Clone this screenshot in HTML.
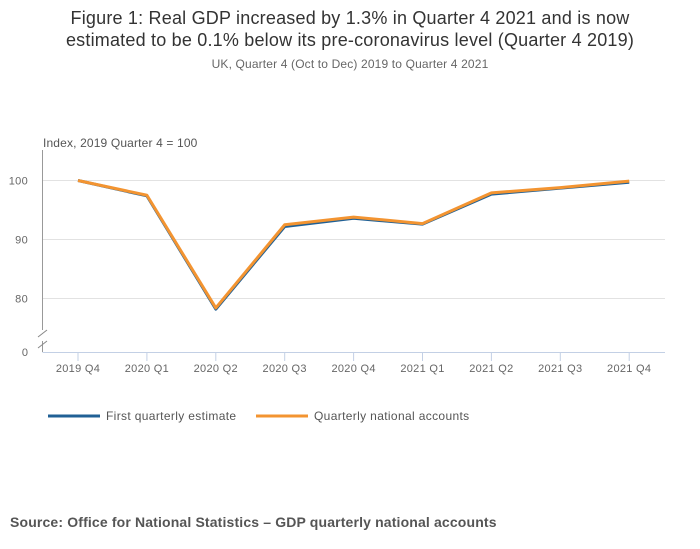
<!DOCTYPE html>
<html><head><meta charset="utf-8"><style>
body{margin:0;background:#fff;font-family:"Liberation Sans",sans-serif;}
#wrap{position:relative;width:700px;height:549px;overflow:hidden;}
</style></head><body>
<div id="wrap">
<svg id="chart" width="700" height="549">
<text x="350" y="24" text-anchor="middle" font-size="18" fill="#333" letter-spacing="0.2">Figure 1: Real GDP increased by 1.3% in Quarter 4 2021 and is now</text>
<text x="350" y="46" text-anchor="middle" font-size="18" fill="#333" letter-spacing="0.2">estimated to be 0.1% below its pre-coronavirus level (Quarter 4 2019)</text>
<text x="350" y="68" text-anchor="middle" font-size="12" fill="#666" letter-spacing="0.15">UK, Quarter 4 (Oct to Dec) 2019 to Quarter 4 2021</text>
<text x="43" y="147" font-size="12" fill="#555" letter-spacing="0.15">Index, 2019 Quarter 4 = 100</text>
<g id="grid"></g><g id="axes"></g><g id="series"></g>
<line x1="48" y1="416" x2="100" y2="416" stroke="#206095" stroke-width="3"/>
<text x="106" y="420" font-size="12" fill="#555" letter-spacing="0.35">First quarterly estimate</text>
<line x1="256" y1="416" x2="308" y2="416" stroke="#f39431" stroke-width="3"/>
<text x="314" y="420" font-size="12" fill="#555" letter-spacing="0.35">Quarterly national accounts</text>
<text x="10" y="527" font-size="14" font-weight="bold" fill="#555" letter-spacing="0.15">Source: Office for National Statistics – GDP quarterly national accounts</text>
</svg>
</div>
<script>
const categories=["2019 Q4","2020 Q1","2020 Q2","2020 Q3","2020 Q4","2021 Q1","2021 Q2","2021 Q3","2021 Q4"];
const firstEstimate=[100,97.4,78.2,92.2,93.6,92.6,97.7,98.7,99.7];
const qnaValues=[100,97.5,78.4,92.5,93.8,92.7,97.9,98.8,99.9];
const yTicks=[100,90,80];
const NS="http://www.w3.org/2000/svg";
function xS(i){return 78+i*68.9;}
function yS(v){return 180.5+(100-v)*5.9;}
function mk(tag,attrs,parent){const e=document.createElementNS(NS,tag);for(const k in attrs)e.setAttribute(k,attrs[k]);parent.appendChild(e);return e;}
const grid=document.getElementById('grid'),axes=document.getElementById('axes'),series=document.getElementById('series');
yTicks.forEach(t=>{
 const l=mk('line',{x1:42.5,x2:665,y1:yS(t),y2:yS(t),stroke:'#e2e2e2','stroke-width':1},grid);
 
 
 const tx=mk('text',{x:28,y:yS(t)+4,'text-anchor':'end','font-size':11,fill:'#666','letter-spacing':0.3},axes);
 tx.textContent=t;
 
 
});
const z=mk('text',{x:28,y:356,'text-anchor':'end','font-size':11,fill:'#666'},axes);z.textContent='0';


const ya=mk('path',{d:'M42.5 150 V330 M42.5 341 V352',stroke:'#999',fill:'none'},axes);


const br=mk('path',{d:'M38 337 L47 330 M38 348 L47 341',stroke:'#888',fill:'none'},axes);


const xa=mk('line',{x1:42.5,x2:665,y1:352.5,y2:352.5,stroke:'#c3d0e5'},axes);


categories.forEach((c,i)=>{
 const tk=mk('line',{x1:xS(i),x2:xS(i),y1:352,y2:361,stroke:'#c3d0e5'},axes);
 
 
 const t=mk('text',{x:xS(i),y:372,'text-anchor':'middle','font-size':11,fill:'#666','letter-spacing':0.3},axes);
 t.textContent=c;
 
 
});
function line(vals,col,name){
 const p=mk('polyline',{points:vals.map((v,i)=>xS(i)+','+yS(v)).join(' '),fill:'none',stroke:col,'stroke-width':3,'stroke-linejoin':'round'},series);
 
 
}
line(firstEstimate,'#206095','line-first-estimate');
line(qnaValues,'#f39431','line-quarterly-national-accounts');
</script>
</body></html>
